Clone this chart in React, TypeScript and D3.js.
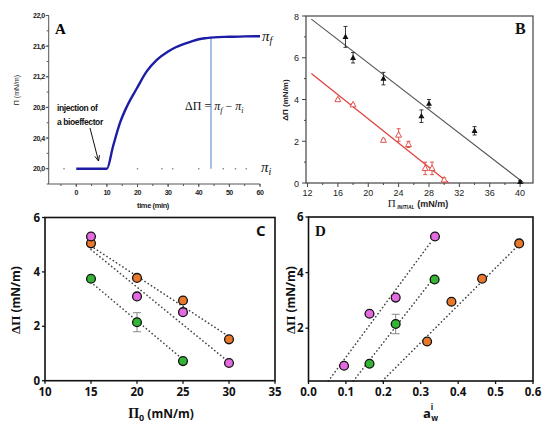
import * as d3 from "d3";

// ---- panel A : surface pressure vs time
const timeMin = [0, 10, 12, 14.3, 16.5, 19.8, 23, 26.3, 30, 32.5, 35, 37.5, 40, 42.5, 45, 50, 55, 60];
const piValue = [20.0, 20.0, 20.29, 20.6, 20.81, 21.05, 21.27, 21.42, 21.53, 21.585, 21.625, 21.66, 21.69, 21.705, 21.715, 21.722, 21.728, 21.73];
const baselineDots = [-4, 20, 28, 31.5, 40, 48, 52, 55.5];
const markerTime = 44;
const aYTicks = [20.0, 20.4, 20.8, 21.2, 21.6, 22.0];
const aXTicks = [0, 10, 20, 30, 40, 50, 60];

// ---- panel B : delta pi vs initial pressure
const bBlackX = [17, 18, 22, 27, 28, 34, 40];
const bBlackY = [7.0, 6.0, 5.0, 3.2, 3.8, 2.5, 0.05];
const bBlackErr = [0.5, 0.25, 0.3, 0.3, 0.2, 0.2, 0.06];
const bRedX = [16, 18, 22, 24, 25.3, 27.5, 28.4, 30];
const bRedY = [4.0, 3.75, 2.05, 2.3, 1.85, 0.7, 0.7, 0.15];
const bRedErr = [0.05, 0.05, 0.05, 0.3, 0.15, 0.3, 0.3, 0.1];
const bBlackFit = [[12.5, 7.85], [40.5, 0]];
const bRedFit = [[12.5, 5.25], [30.6, 0]];
const bXTicks = [12, 16, 20, 24, 28, 32, 36, 40];
const bYTicks = [0, 2, 4, 6, 8];

// ---- panels C and D : three bioeffectors
const cPi0 = [15, 20, 25, 30];
const orangeDelta = [5.05, 3.78, 2.95, 1.52];
const pinkDelta = [5.3, 3.1, 2.52, 0.65];
const greenDelta = [3.75, 2.15, 0.72];
const greenErr = [0, 0.35, 0];
const orangeAw = [0.317, 0.382, 0.464, 0.563];
const pinkAw = [0.095, 0.163, 0.233, 0.338];
const greenAw = [0.163, 0.233, 0.337];
const cOrangeFit = [[15, 4.95], [30, 1.62]];
const cPinkFit = [[15, 4.82], [30, 0.68]];
const cGreenFit = [[15, 3.62], [25, 0.78]];
const dOrangeFit = [[0.197, 0.1], [0.568, 5.08]];
const dPinkFit = [[0.053, 0.1], [0.33, 5.15]];
const dGreenFit = [[0.12, 0.1], [0.34, 3.9]];
const cXTicks = [10, 15, 20, 25, 30, 35];
const cYTicks = [0, 2, 4, 6];
const dXTicks = [0, 0.1, 0.2, 0.3, 0.4, 0.5, 0.6];
const dYTicks = [2, 4, 6];

const ORANGE = "#e8782c";
const PINK = "#e46ae0";
const GREEN = "#34b434";
const SANS = "'Liberation Sans', Arial, sans-serif";
const SERIF = "'Liberation Serif', 'Times New Roman', serif";
const BOLD = "'Open Sans', 'Liberation Sans', sans-serif";

const PanelA = () => {
  const x = d3.scaleLinear().domain([-9, 60]).range([48.7, 260]);
  const y = d3.scaleLinear().domain([19.8, 22.0]).range([184, 15.5]);
  const line = d3
    .line<number>()
    .x((_, i) => x(timeMin[i]))
    .y((d) => y(d))
    .curve(d3.curveMonotoneX);
  const minorY = d3.range(19.8, 22.01, 0.2);
  const minorX = d3.range(-5, 61, 5);
  const last = piValue[piValue.length - 1];
  return (
    <g fontFamily={SANS}>
      <line x1={x(-9)} x2={x(-9)} y1={y(22)} y2={y(19.8)} stroke="#555" />
      <line x1={x(-9)} x2={x(60)} y1={y(19.8)} y2={y(19.8)} stroke="#555" />
      {minorY.map((v, i) => (
        <line key={i} x1={x(-9) - 2} x2={x(-9)} y1={y(v)} y2={y(v)} stroke="#555" />
      ))}
      {aYTicks.map((v) => (
        <g key={v}>
          <line x1={x(-9) - 3} x2={x(-9)} y1={y(v)} y2={y(v)} stroke="#555" />
          <text x={x(-9) - 4} y={y(v) + 2.5} textAnchor="end" fontSize={7} fontWeight="bold" letterSpacing={-0.5} fill="#222">
            {v.toFixed(1).replace(".", ",")}
          </text>
        </g>
      ))}
      {minorX.map((v) => (
        <line key={v} x1={x(v)} x2={x(v)} y1={y(19.8)} y2={y(19.8) + 2} stroke="#555" />
      ))}
      {aXTicks.map((v) => (
        <g key={v}>
          <line x1={x(v)} x2={x(v)} y1={y(19.8)} y2={y(19.8) + 3} stroke="#555" />
          <text x={x(v)} y={195} textAnchor="middle" fontSize={7} fontWeight="bold" letterSpacing={-0.4} fill="#222">
            {v}
          </text>
        </g>
      ))}
      <text x={153} y={208} textAnchor="middle" fontSize={7.5} fontWeight="bold" letterSpacing={-0.4} fill="#222">
        time (min)
      </text>
      <text transform="translate(19,90) rotate(-90)" textAnchor="middle" fontSize={7} fill="#222">
        Π (mN/m)
      </text>
      {baselineDots.map((t) => (
        <circle key={t} cx={x(t)} cy={y(20)} r={0.8} fill="#777" />
      ))}
      <line x1={x(markerTime)} x2={x(markerTime)} y1={y(20)} y2={y(21.71)} stroke="#6d9fd8" strokeWidth={1.3} />
      <path d={line(piValue) ?? ""} fill="none" stroke="#1c1ca4" strokeWidth={2.4} />
      <text x={55} y={34} fontFamily={SERIF} fontWeight="bold" fontSize={15}>A</text>
      <text x={57} y={111} fontSize={8.5} fontWeight="bold" letterSpacing={-0.4} fill="#111">injection of</text>
      <text x={57} y={125} fontSize={8.5} fontWeight="bold" letterSpacing={-0.4} fill="#111">a bioeffector</text>
      <defs>
        <marker id="arrA" viewBox="0 0 10 10" refX={9} refY={5} markerWidth={6} markerHeight={6} orient="auto">
          <path d="M0,1 L9,5 L0,9" fill="none" stroke="#111" strokeWidth={1.5} />
        </marker>
      </defs>
      <line x1={90} y1={128} x2={98.5} y2={161} stroke="#111" strokeWidth={1} markerEnd="url(#arrA)" />
      <text x={185} y={110} fontFamily={SERIF} fontSize={12} fill="#111">
        ΔΠ = <tspan fontStyle="italic">π</tspan>
        <tspan fontSize={8} dy={3} fontStyle="italic">f</tspan>
        <tspan dy={-3}> − </tspan>
        <tspan fontStyle="italic">π</tspan>
        <tspan fontSize={8} dy={3} fontStyle="italic">i</tspan>
      </text>
      <text x={262} y={y(last) + 5} fontFamily={SERIF} fontSize={15} fontStyle="italic" fill="#111">
        π<tspan fontSize={10} dy={3}>f</tspan>
      </text>
      <text x={261} y={y(20) + 3} fontFamily={SERIF} fontSize={15} fontStyle="italic" fill="#111">
        π<tspan fontSize={10} dy={3}>i</tspan>
      </text>
    </g>
  );
};

const triangle = (cx: number, cy: number, s: number) =>
  `M${cx},${cy - s} L${cx + s * 0.9},${cy + s * 0.65} L${cx - s * 0.9},${cy + s * 0.65} Z`;

const PanelB = () => {
  const x = d3.scaleLinear().domain([11.8, 41.7]).range([306, 533]);
  const y = d3.scaleLinear().domain([0, 8]).range([183, 16]);
  const minorX = d3.range(12, 42, 2);
  const minorY = d3.range(0, 9, 1);
  const errBar = (cx: number, v: number, e: number, color: string, k: string) => (
    <g key={k} stroke={color} strokeWidth={0.9}>
      <line x1={cx} x2={cx} y1={y(v + e)} y2={y(v - e)} />
      <line x1={cx - 2} x2={cx + 2} y1={y(v + e)} y2={y(v + e)} />
      <line x1={cx - 2} x2={cx + 2} y1={y(v - e)} y2={y(v - e)} />
    </g>
  );
  return (
    <g fontFamily={SANS}>
      <rect x={306} y={16} width={227} height={167} fill="none" stroke="#444" strokeWidth={1.2} />
      {minorX.map((v) => (
        <line key={v} x1={x(v)} x2={x(v)} y1={183} y2={v % 4 === 0 ? 187 : 185} stroke="#444" />
      ))}
      {bXTicks.map((v) => (
        <text key={v} x={x(v)} y={196} textAnchor="middle" fontSize={9} fill="#222">{v}</text>
      ))}
      {minorY.map((v) => (
        <line key={v} x1={v % 2 === 0 ? 302 : 304} x2={306} y1={y(v)} y2={y(v)} stroke="#444" />
      ))}
      {bYTicks.map((v) => (
        <text key={v} x={299} y={y(v) + 3.5} textAnchor="end" fontSize={9} fill="#222">{v}</text>
      ))}
      <text transform="translate(288,100) rotate(-90)" textAnchor="middle" fontSize={8} fontWeight="bold" fill="#222">
        ΔΠ (mN/m)
      </text>
      <text x={418} y={207} textAnchor="middle" fontSize={9} fontWeight="bold" fill="#222">
        <tspan fontFamily={SERIF} fontWeight="normal" fontSize={11}>Π</tspan>
        <tspan fontSize={5} fontStyle="italic" dy={2}> INITIAL</tspan>
        <tspan dy={-2}> (mN/m)</tspan>
      </text>
      <line x1={x(bBlackFit[0][0])} y1={y(bBlackFit[0][1])} x2={x(bBlackFit[1][0])} y2={y(bBlackFit[1][1])} stroke="#555" strokeWidth={1.1} />
      <line x1={x(bRedFit[0][0])} y1={y(bRedFit[0][1])} x2={x(bRedFit[1][0])} y2={y(bRedFit[1][1])} stroke="#e0443c" strokeWidth={1.3} />
      {bBlackX.map((v, i) => errBar(x(v), bBlackY[i], bBlackErr[i], "#222", "be" + i))}
      {bRedX.map((v, i) => errBar(x(v), bRedY[i], bRedErr[i], "#e0443c", "re" + i))}
      {bBlackX.map((v, i) => (
        <path key={"b" + i} d={triangle(x(v), y(bBlackY[i]), 3.3)} fill="#111" />
      ))}
      {bRedX.map((v, i) => (
        <path key={"r" + i} d={triangle(x(v), y(bRedY[i]), 3.3)} fill="#fff" stroke="#e0443c" strokeWidth={0.9} />
      ))}
      <text x={515} y={34} fontFamily={SERIF} fontWeight="bold" fontSize={16} fill="#111">B</text>
    </g>
  );
};

type Series = { xs: number[]; ys: number[]; color: string; err?: number[]; fit: number[][] };

const ScatterPanel = ({
  left, right, top, bottom, xDomain, yDomain, xTicks, yTicks, xFmt, series, letter, letterX, letterFont, xLabel, yLabelX,
}: {
  left: number; right: number; top: number; bottom: number;
  xDomain: number[]; yDomain: number[]; xTicks: number[]; yTicks: number[];
  xFmt: (v: number) => string; series: Series[]; letter: string; letterX: number; letterFont: string;
  xLabel: JSX.Element; yLabelX: number;
}) => {
  const x = d3.scaleLinear().domain(xDomain).range([left, right]);
  const y = d3.scaleLinear().domain(yDomain).range([bottom, top]);
  return (
    <g fontFamily={BOLD}>
      {series.map((s, k) => (
        <line key={"f" + k} x1={x(s.fit[0][0])} y1={y(s.fit[0][1])} x2={x(s.fit[1][0])} y2={y(s.fit[1][1])}
          stroke="#444" strokeWidth={1.6} strokeDasharray="0.2 3.6" strokeLinecap="round" />
      ))}
      {series.map((s, k) =>
        s.xs.map((v, i) =>
          s.err && s.err[i] > 0 ? (
            <g key={`e${k}-${i}`} stroke="#888" strokeWidth={1}>
              <line x1={x(v)} x2={x(v)} y1={y(s.ys[i] + s.err[i])} y2={y(s.ys[i] - s.err[i])} />
              <line x1={x(v) - 4} x2={x(v) + 4} y1={y(s.ys[i] + s.err[i])} y2={y(s.ys[i] + s.err[i])} />
              <line x1={x(v) - 4} x2={x(v) + 4} y1={y(s.ys[i] - s.err[i])} y2={y(s.ys[i] - s.err[i])} />
            </g>
          ) : null
        )
      )}
      {series.map((s, k) =>
        s.xs.map((v, i) => (
          <circle key={`p${k}-${i}`} cx={x(v)} cy={y(s.ys[i])} r={4.4} fill={s.color} stroke="#111" strokeWidth={1.3} />
        ))
      )}
      <rect x={left} y={top} width={right - left} height={bottom - top} fill="none" stroke="#111" strokeWidth={1.6} />
      {xTicks.map((v) => (
        <g key={v}>
          <line x1={x(v)} x2={x(v)} y1={bottom} y2={bottom + 3} stroke="#111" strokeWidth={1.3} />
          <text x={x(v)} y={396} textAnchor="middle" fontSize={11.5} fontWeight="bold" fill="#111">{xFmt(v)}</text>
        </g>
      ))}
      {yTicks.map((v) => (
        <g key={v}>
          <line x1={left - 3} x2={left} y1={y(v)} y2={y(v)} stroke="#111" strokeWidth={1.3} />
          <text x={left - 5} y={y(v) + 4} textAnchor="end" fontSize={11.5} fontWeight="bold" fill="#111">{v}</text>
        </g>
      ))}
      <text transform={`translate(${yLabelX},300) rotate(-90)`} textAnchor="middle" fontSize={12} fontWeight="bold" fill="#111">
        <tspan fontFamily={SERIF} fontSize={13}>ΔΠ</tspan> (mN/m)
      </text>
      {xLabel}
      <text x={letterX} y={236} fontFamily={letterFont} fontWeight="bold" fontSize={15} fill="#111">{letter}</text>
    </g>
  );
};

const App = () => {
  const cSeries: Series[] = [
    { xs: cPi0, ys: orangeDelta, color: ORANGE, fit: cOrangeFit },
    { xs: cPi0, ys: pinkDelta, color: PINK, fit: cPinkFit },
    { xs: cPi0.slice(0, 3), ys: greenDelta, color: GREEN, err: greenErr, fit: cGreenFit },
  ];
  const dSeries: Series[] = [
    { xs: pinkAw, ys: pinkDelta.slice().reverse(), color: PINK, fit: dPinkFit },
    { xs: greenAw, ys: greenDelta.slice().reverse(), color: GREEN, err: greenErr.slice().reverse(), fit: dGreenFit },
    { xs: orangeAw, ys: orangeDelta.slice().reverse(), color: ORANGE, fit: dOrangeFit },
  ];
  return (
    <svg width={550} height={434} style={{ position: "absolute", left: 0, top: 0, background: "#fff" }}>
      <PanelA />
      <PanelB />
      <ScatterPanel
        left={45} right={275} top={217.5} bottom={380.7}
        xDomain={[10, 35]} yDomain={[0, 6]} xTicks={cXTicks} yTicks={cYTicks}
        xFmt={(v) => String(v)} series={cSeries} letter="C" letterX={256} letterFont={BOLD} yLabelX={20}
        xLabel={
          <text x={161} y={418} textAnchor="middle" fontSize={12} fontWeight="bold" fill="#111">
            <tspan fontFamily={SERIF} fontSize={14}>Π</tspan>
            <tspan fontSize={9} dy={3}>0</tspan>
            <tspan dy={-3}> (mN/m)</tspan>
          </text>
        }
      />
      <ScatterPanel
        left={308.5} right={533} top={217} bottom={381}
        xDomain={[0, 0.6]} yDomain={[0.1, 6]} xTicks={dXTicks} yTicks={dYTicks}
        xFmt={(v) => v.toFixed(1)} series={dSeries} letter="D" letterX={315} letterFont={SERIF} yLabelX={295}
        xLabel={
          <text x={423} y={418} fontSize={13} fontWeight="bold" fill="#111">
            a<tspan fontSize={8} dy={-8}>i</tspan>
            <tspan fontSize={8} dx={-2} dy={11}>w</tspan>
          </text>
        }
      />
    </svg>
  );
};

export default App;
